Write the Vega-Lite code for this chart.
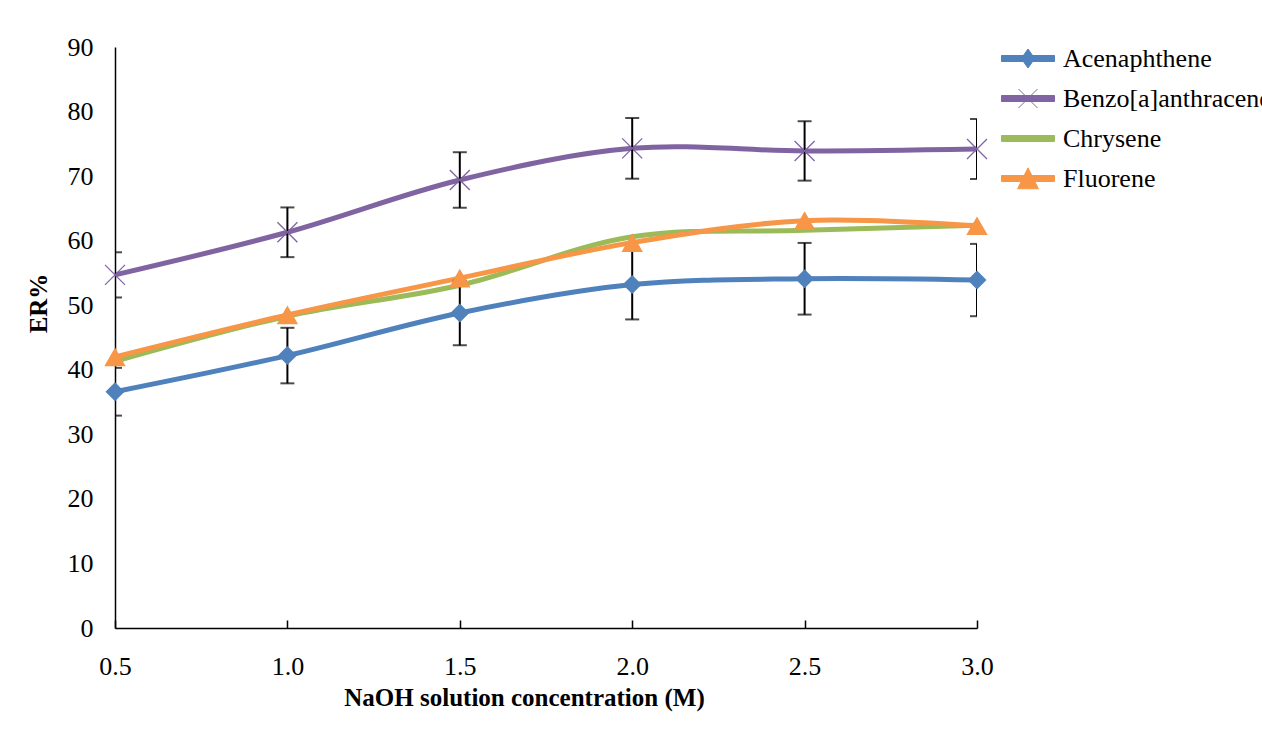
{
  "$schema": "https://vega.github.io/schema/vega-lite/v6.json",
  "autosize": "none",
  "width": 862,
  "height": 581,
  "padding": {"left": 115, "top": 47, "right": 285, "bottom": 110},
  "background": "white",
  "config": {
    "view": {"stroke": null},
    "font": "Liberation Serif"
  },
  "data": {"values": [
    {"series": "Acenaphthene", "conc": 0.5, "er": 36.6, "err": 3.7},
    {"series": "Acenaphthene", "conc": 1.0, "er": 42.2, "err": 4.3},
    {"series": "Acenaphthene", "conc": 1.5, "er": 48.8, "err": 5.0},
    {"series": "Acenaphthene", "conc": 2.0, "er": 53.2, "err": 5.4},
    {"series": "Acenaphthene", "conc": 2.5, "er": 54.1, "err": 5.55},
    {"series": "Acenaphthene", "conc": 3.0, "er": 53.9, "err": 5.6},
    {"series": "Benzo[a]anthracene", "conc": 0.5, "er": 54.7, "err": 3.5},
    {"series": "Benzo[a]anthracene", "conc": 1.0, "er": 61.3, "err": 3.85},
    {"series": "Benzo[a]anthracene", "conc": 1.5, "er": 69.4, "err": 4.3},
    {"series": "Benzo[a]anthracene", "conc": 2.0, "er": 74.3, "err": 4.7},
    {"series": "Benzo[a]anthracene", "conc": 2.5, "er": 73.9, "err": 4.6},
    {"series": "Benzo[a]anthracene", "conc": 3.0, "er": 74.2, "err": 4.65},
    {"series": "Chrysene", "conc": 0.5, "er": 41.3, "err": null},
    {"series": "Chrysene", "conc": 1.0, "er": 48.3, "err": null},
    {"series": "Chrysene", "conc": 1.5, "er": 53.1, "err": null},
    {"series": "Chrysene", "conc": 2.0, "er": 60.6, "err": null},
    {"series": "Chrysene", "conc": 2.5, "er": 61.6, "err": null},
    {"series": "Chrysene", "conc": 3.0, "er": 62.4, "err": null},
    {"series": "Fluorene", "conc": 0.5, "er": 42.0, "err": null},
    {"series": "Fluorene", "conc": 1.0, "er": 48.5, "err": null},
    {"series": "Fluorene", "conc": 1.5, "er": 54.2, "err": null},
    {"series": "Fluorene", "conc": 2.0, "er": 59.7, "err": null},
    {"series": "Fluorene", "conc": 2.5, "er": 63.1, "err": null},
    {"series": "Fluorene", "conc": 3.0, "er": 62.3, "err": null}
  ]},
  "encoding": {
    "x": {"field": "conc", "type": "quantitative", "scale": {"domain": [0.5, 3.0], "nice": false, "zero": false},
      "axis": {"values": [0.5, 1.0, 1.5, 2.0, 2.5, 3.0], "format": ".1f", "grid": false, "domainColor": "black", "domainWidth": 1.5, "tickColor": "black", "tickSize": -8, "tickWidth": 1.5, "labelPadding": 33, "labelFlush": false,
        "labelFont": "Liberation Serif", "labelFontSize": 26, "labelColor": "black",
        "title": "NaOH solution concentration (M)", "titleFont": "Liberation Serif", "titleFontSize": 25, "titleFontWeight": "bold", "titleColor": "black", "titleX": 409, "titleY": 69, "titleBaseline": "middle", "titleAnchor": "middle"}},
    "y": {"field": "er", "type": "quantitative", "scale": {"domain": [0, 90], "nice": false},
      "axis": {"values": [0, 10, 20, 30, 40, 50, 60, 70, 80, 90], "grid": false, "domainColor": "black", "domainWidth": 1.5, "ticks": false, "labelPadding": 22, "labelFlush": false,
        "labelFont": "Liberation Serif", "labelFontSize": 26, "labelColor": "black",
        "title": "ER%", "titleFont": "Liberation Serif", "titleFontSize": 25, "titleFontWeight": "bold", "titleColor": "black", "titleX": -77, "titleY": 256, "titleBaseline": "middle", "titleAnchor": "middle", "titleAngle": -90}}
  },
  "layer": [
    {
      "mark": {"type": "line", "interpolate": "catmull-rom", "strokeWidth": 5},
      "encoding": {
        "color": {"field": "series", "type": "nominal",
          "scale": {"domain": ["Acenaphthene", "Benzo[a]anthracene", "Chrysene", "Fluorene"], "range": ["#4F81BD", "#8064A2", "#9BBB59", "#F79646"]},
          "legend": {"title": null, "orient": "none", "legendX": 899.5, "legendY": -2, "padding": 0, "rowPadding": 13, "labelOffset": 21.5, "symbolSize": 676,
            "labelFont": "Liberation Serif", "labelFontSize": 26, "labelColor": "black", "labelLimit": 500,
            "encode": {"symbols": {"update": {
              "shape": {"signal": "datum.value === 'Acenaphthene' ? 'M-2.04,-0.23H2.04V0.23H-2.04Z M0,-0.73L0.52,0L0,0.73L-0.52,0Z' : datum.value === 'Benzo[a]anthracene' ? 'M-2.04,-0.23H2.04V0.23H-2.04Z M-0.73,-0.73L0.73,0.73 M-0.73,0.73L0.73,-0.73' : datum.value === 'Chrysene' ? 'M-2.04,-0.23H2.04V0.23H-2.04Z' : 'M-2.04,-0.23H2.04V0.23H-2.04Z M0,-0.82L0.8,0.79L-0.8,0.79Z'"},
              "fill": {"scale": "color", "field": "value"},
              "stroke": {"scale": "color", "field": "value"},
              "strokeWidth": {"value": 1},
              "size": {"value": 676},
              "opacity": {"value": 1},
              "fillOpacity": {"value": 1}
            }}}}
        }
      }
    },
    {
      "transform": [{"filter": "datum.err != null"}],
      "mark": {"type": "errorbar", "color": "black", "thickness": 2, "ticks": {"size": 14, "thickness": 2, "color": "black"}, "clip": true},
      "encoding": {
        "y": {"field": "er", "type": "quantitative"},
        "yError": {"field": "err"}
      }
    },
    {
      "transform": [{"filter": "datum.series === 'Acenaphthene'"}],
      "mark": {"type": "point", "shape": "diamond", "filled": true, "size": 360, "color": "#4F81BD", "opacity": 1}
    },
    {
      "transform": [{"filter": "datum.series === 'Benzo[a]anthracene'"}],
      "mark": {"type": "point", "shape": "M-1,-1L1,1M-1,1L1,-1", "filled": false, "size": 400, "color": "#8064A2", "strokeWidth": 1.3, "opacity": 1}
    },
    {
      "transform": [{"filter": "datum.series === 'Fluorene'"}],
      "mark": {"type": "point", "shape": "triangle-up", "filled": true, "size": 460, "color": "#F79646", "opacity": 1}
    }
  ]
}
